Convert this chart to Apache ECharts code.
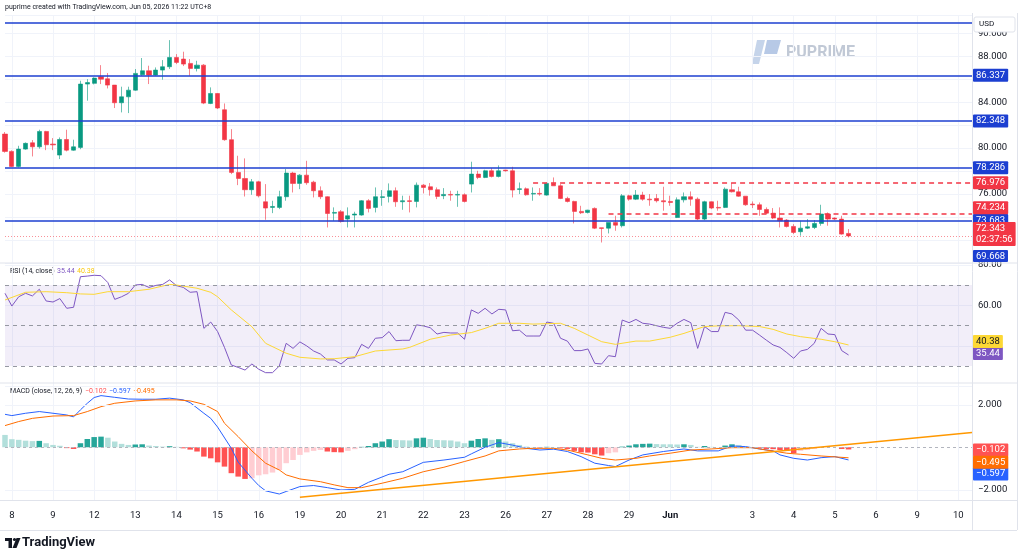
<!DOCTYPE html>
<html>
<head>
<meta charset="utf-8">
<script src="https://cdn.jsdelivr.net/npm/echarts@6.0.0/dist/echarts.min.js"></script>
<style>
  html, body { margin: 0; padding: 0; background: #fff; }
  #main { width: 1024px; height: 558px; }
</style>
</head>
<body>
<div id="main"></div>
<script>
// trading days on the time axis (4H bars, 6 per day); first day only shows its last bar
const days = ['7', '8', '9', '12', '13', '14', '15', '16', '19', '20', '21', '22', '23',
  '26', '27', '28', '29', 'Jun', '2', '3', '4', '5', '6', '9', '10'];

// [open, close, low, high]
const candles = [
  [81.22, 79.71, 79.60, 81.40], [79.71, 78.40, 78.35, 79.80], [78.40, 79.91, 78.31, 80.20],
  [79.91, 80.41, 79.85, 80.49], [80.46, 80.11, 79.27, 80.70], [80.11, 81.45, 79.95, 81.60],
  [81.45, 80.29, 79.82, 81.50], [80.35, 80.28, 79.82, 80.87], [79.39, 80.75, 79.04, 80.93],
  [80.75, 79.82, 79.71, 81.60], [79.82, 80.11, 79.77, 80.73], [80.06, 85.58, 79.90, 85.87],
  [85.58, 85.71, 84.13, 86.01], [85.64, 86.10, 85.55, 86.16], [86.22, 86.01, 85.58, 87.23],
  [86.04, 85.49, 85.20, 86.54], [85.49, 83.95, 83.49, 85.50], [83.95, 84.47, 83.11, 85.35],
  [84.47, 85.05, 83.05, 85.35], [85.05, 86.51, 85.00, 86.89], [86.39, 86.74, 86.30, 87.85],
  [86.74, 86.36, 85.58, 87.18], [86.36, 86.80, 86.30, 87.03], [86.80, 87.09, 85.96, 87.67],
  [87.09, 87.90, 86.89, 89.41], [87.90, 87.47, 87.32, 88.19], [87.76, 87.32, 87.15, 88.40],
  [87.38, 86.94, 86.30, 87.76], [86.94, 87.23, 86.68, 87.61], [87.23, 83.92, 83.83, 87.32],
  [83.89, 84.76, 83.83, 85.29], [84.76, 83.49, 83.40, 84.80], [83.34, 80.73, 80.64, 83.89],
  [80.73, 77.88, 77.73, 81.65], [77.88, 77.35, 76.77, 79.33], [77.35, 76.37, 75.78, 79.10],
  [76.37, 77.06, 75.93, 77.30], [77.06, 75.84, 75.70, 77.15], [75.32, 74.77, 73.75, 76.86],
  [74.83, 74.91, 74.33, 75.41], [74.83, 75.76, 74.68, 76.28], [75.76, 77.82, 75.41, 78.17],
  [77.82, 76.92, 76.13, 77.93], [76.92, 77.64, 76.42, 77.73], [77.64, 76.98, 76.80, 78.89],
  [77.03, 76.28, 75.70, 77.15], [76.28, 75.76, 75.55, 76.66], [75.76, 74.30, 73.08, 75.80],
  [74.33, 74.39, 73.66, 74.83], [74.45, 73.61, 73.50, 74.60], [73.81, 74.10, 73.08, 74.83],
  [74.16, 74.25, 73.08, 74.45], [74.16, 75.41, 74.10, 75.47], [75.41, 74.74, 74.39, 75.55],
  [74.83, 75.76, 74.39, 76.57], [75.70, 75.76, 74.97, 76.34], [75.79, 76.28, 75.26, 76.92],
  [76.28, 75.32, 74.88, 76.57], [75.32, 75.41, 74.62, 75.85], [75.41, 75.35, 74.39, 75.85],
  [75.35, 76.77, 74.83, 77.00], [76.77, 76.57, 76.05, 76.86], [76.63, 76.37, 75.85, 76.95],
  [76.37, 75.79, 75.55, 76.57], [75.85, 75.96, 75.55, 76.51], [75.96, 75.90, 75.41, 76.28],
  [75.90, 75.96, 74.88, 76.28], [75.93, 75.35, 75.26, 76.05], [76.86, 77.73, 76.13, 78.81],
  [77.73, 77.44, 77.29, 78.02], [77.44, 78.02, 77.38, 78.11], [78.02, 77.53, 77.44, 78.26],
  [77.53, 78.02, 77.44, 78.49], [78.08, 78.02, 77.95, 78.10], [78.02, 76.34, 75.70, 78.37],
  [76.40, 76.45, 75.99, 77.00], [76.45, 75.93, 75.85, 76.57], [75.99, 76.05, 75.41, 76.57],
  [76.05, 75.99, 75.85, 76.51], [75.90, 76.92, 75.85, 77.00], [76.92, 76.71, 76.71, 77.44],
  [76.71, 75.61, 75.55, 76.86], [75.61, 75.35, 75.26, 75.76], [75.35, 74.48, 73.43, 75.41],
  [74.48, 74.36, 74.25, 74.97], [74.39, 74.59, 74.30, 74.62], [74.74, 73.02, 72.94, 74.83],
  [73.05, 73.00, 71.77, 73.05], [73.02, 73.52, 72.56, 73.52], [73.52, 73.28, 72.79, 74.10],
  [73.23, 75.84, 73.08, 75.99], [75.84, 75.55, 75.41, 75.93], [75.55, 75.90, 75.47, 76.34],
  [75.90, 75.55, 75.41, 76.19], [75.55, 75.49, 74.97, 75.99], [75.61, 75.41, 75.26, 75.99],
  [75.41, 75.32, 74.54, 76.63], [75.35, 75.26, 74.97, 75.85], [73.95, 75.49, 73.90, 75.70],
  [75.49, 75.76, 75.26, 76.13], [75.76, 75.55, 74.97, 76.22], [75.55, 73.81, 73.72, 75.70],
  [73.81, 75.32, 73.72, 75.41], [75.32, 74.77, 74.68, 75.35], [74.83, 74.77, 74.54, 75.41],
  [74.83, 76.42, 74.77, 76.57], [76.37, 76.19, 76.13, 76.95], [76.19, 75.81, 75.76, 76.63],
  [75.81, 75.06, 74.97, 75.81], [75.12, 75.06, 74.77, 75.35], [75.06, 74.65, 74.10, 75.26],
  [74.65, 74.33, 74.25, 74.83], [74.33, 73.90, 73.81, 74.77], [73.90, 73.66, 73.08, 74.83],
  [73.72, 73.17, 73.08, 73.81], [73.17, 72.65, 72.50, 73.37], [72.71, 73.02, 72.36, 73.66],
  [73.02, 73.14, 72.94, 73.81], [73.08, 73.43, 72.94, 73.72], [73.43, 74.25, 73.23, 75.06],
  [74.25, 73.81, 73.23, 74.39], [73.90, 73.81, 73.72, 73.95], [73.81, 72.50, 72.45, 74.10],
  [72.56, 72.343, 72.21, 72.94]
];

// RSI (14, close), one value per bar
const rsi = [
  65.9, 59.6, 64.2, 65.9, 64.6, 67.9, 62.1, 61.6, 63.3, 58.5, 59.0, 74.1, 74.4, 74.8, 74.6, 71.2,
  62.9, 64.2, 65.9, 70.0, 70.3, 68.8, 69.8, 70.3, 72.5, 69.7, 68.8, 66.4, 66.7, 48.6, 51.7, 47.0,
  39.2, 30.5, 29.3, 28.0, 31.0, 28.4, 26.7, 26.7, 30.0, 41.2, 38.7, 41.9, 39.9, 37.4, 35.9, 33.0,
  33.0, 31.0, 33.8, 34.1, 40.7, 38.7, 43.7, 44.0, 47.0, 42.5, 42.7, 42.7, 50.3, 49.8, 48.9, 45.8,
  46.6, 46.3, 46.3, 43.2, 57.7, 56.0, 58.5, 55.7, 58.0, 57.7, 47.4, 47.7, 44.8, 44.8, 44.8, 51.7,
  51.1, 43.7, 42.3, 37.6, 37.6, 38.4, 31.3, 31.0, 35.1, 34.6, 52.7, 51.4, 53.0, 51.1, 50.7, 49.9,
  49.1, 48.6, 51.1, 53.0, 51.4, 38.7, 49.5, 47.0, 47.0, 56.5, 55.7, 52.7, 47.7, 47.7, 45.3, 42.8,
  40.4, 39.2, 36.6, 33.8, 37.4, 38.2, 41.2, 48.6, 45.8, 45.5, 37.6, 35.44
];

// RSI-based MA, read at [bar, value]
const rsiMa = [
  [0, 62.6], [3, 66.4], [6, 66.7], [9, 66.2], [11, 65.6], [13, 65.4], [15, 66.7], [18, 66.7],
  [21, 67.9], [24, 70.3], [25, 70.0], [28, 68.4], [30, 66.4], [31, 64.2], [33, 57.7], [36, 49.4],
  [38, 41.2], [41, 36.3], [43, 34.3], [46, 33.5], [48, 33.6], [51, 34.6], [54, 37.4], [58, 38.4],
  [59, 39.2], [62, 43.2], [65, 45.3], [68, 46.5], [70, 48.6], [72, 51.1], [75, 51.1], [77, 50.7],
  [81, 51.1], [83, 48.6], [85, 45.3], [87, 42.0], [89, 40.7], [92, 42.3], [94, 42.3], [97, 44.2],
  [99, 46.1], [102, 49.5], [104, 49.8], [107, 49.9], [110, 49.5], [112, 48.1], [114, 45.8],
  [116, 44.5], [119, 43.2], [121, 42.0], [123, 40.38]
];

// MACD (12, 26, 9) line and signal, read at [bar, value]
const macd = [
  [0, 1.55], [1, 1.49], [3, 1.60], [5, 1.68], [7, 1.60], [9, 1.52], [10, 1.43], [11, 1.76],
  [12, 2.07], [13, 2.34], [14, 2.43], [16, 2.35], [18, 2.27], [20, 2.26], [22, 2.26], [24, 2.31],
  [26, 2.23], [27, 2.10], [29, 1.60], [30, 1.36], [31, 0.95], [33, -0.05], [34, -0.70],
  [36, -1.46], [37, -1.80], [38, -2.05], [40, -2.20], [41, -2.08], [43, -1.85], [45, -1.80],
  [47, -1.90], [49, -2.01], [51, -1.98], [53, -1.65], [56, -1.27], [58, -1.15], [61, -0.71],
  [64, -0.60], [67, -0.47], [68, -0.31], [70, 0.00], [72, 0.22], [74, 0.10], [76, -0.05],
  [78, -0.13], [80, -0.09], [82, -0.20], [84, -0.44], [86, -0.75], [88, -0.86], [89, -0.91],
  [91, -0.60], [93, -0.36], [96, -0.20], [99, -0.08], [101, -0.17], [104, -0.17], [106, 0.06],
  [108, 0.03], [110, -0.08], [112, -0.17], [113, -0.36], [115, -0.52], [117, -0.60],
  [119, -0.49], [121, -0.44], [123, -0.597]
];
const signal = [
  [0, 1.02], [2, 1.21], [4, 1.36], [7, 1.47], [10, 1.49], [12, 1.68], [14, 1.91], [16, 2.07],
  [19, 2.18], [22, 2.23], [25, 2.23], [27, 2.18], [29, 2.02], [31, 1.68], [32, 1.13], [34, 0.50],
  [36, -0.17], [38, -0.75], [40, -1.07], [41, -1.30], [43, -1.49], [46, -1.62], [48, -1.77],
  [50, -1.90], [52, -1.90], [55, -1.69], [58, -1.46], [61, -1.15], [64, -0.94], [67, -0.67],
  [70, -0.41], [72, -0.17], [75, -0.08], [77, -0.05], [80, -0.05], [82, -0.13], [85, -0.36],
  [87, -0.52], [89, -0.60], [92, -0.52], [94, -0.41], [97, -0.28], [100, -0.13], [103, -0.08],
  [106, -0.02], [109, -0.02], [111, -0.13], [114, -0.28], [116, -0.33], [119, -0.41],
  [123, -0.495]
];
// MACD histogram, one value per bar
const hist = [
  0.58, 0.38, 0.35, 0.31, 0.29, 0.30, 0.19, 0.11, 0.07, -0.04, -0.08, 0.19, 0.39, 0.48, 0.50, 0.45,
  0.27, 0.16, 0.11, 0.13, 0.14, 0.08, 0.06, 0.03, 0.05, 0.02, -0.05, -0.11, -0.20, -0.44, -0.52,
  -0.71, -0.91, -1.22, -1.38, -1.49, -1.46, -1.32, -1.27, -1.19, -1.07, -0.75, -0.60, -0.36,
  -0.24, -0.17, -0.13, -0.20, -0.23, -0.24, -0.17, -0.09, 0.02, 0.06, 0.19, 0.27, 0.38, 0.34,
  0.33, 0.32, 0.42, 0.45, 0.39, 0.34, 0.33, 0.32, 0.27, 0.19, 0.31, 0.39, 0.42, 0.35, 0.38, 0.27,
  0.19, 0.11, 0.03, 0.01, -0.02, 0.02, 0.01, -0.05, -0.08, -0.17, -0.24, -0.25, -0.33, -0.39,
  -0.28, -0.24, 0.03, 0.08, 0.14, 0.16, 0.17, 0.15, 0.14, 0.14, 0.13, 0.14, 0.11, 0.02, 0.06,
  0.02, 0.01, 0.08, 0.14, 0.11, 0.03, 0.00, -0.05, -0.08, -0.09, -0.13, -0.17, -0.28, -0.17,
  -0.13, -0.08, -0.02, -0.01, 0.00, -0.08, -0.102
];

// drawn levels
const levels = [90.9, 86.337, 82.348, 78.286, 73.683];
const rays = [{ from: 77, value: 76.976 }, { from: 88, value: 74.234 }];
const lowLevel = 69.668;
const countdown = '02:37:56';
const trend = [[43, -2.35], [141, 0.69]];

const BLUE = '#1c3fd1';
const RED = '#f23645';
const GREEN = '#089981';
const GRID = '#f0f3fa';
const TEXT = '#131722';
const FONT = 'Roboto, "DejaVu Sans", sans-serif';
const NONE = 'rgba(0,0,0,0)';

const categories = [];
days.forEach(function (d, k) {
  const first = k === 0 ? 5 : 0;
  const last = k === days.length - 1 ? 2 : 5;
  for (let b = first; b <= last; b++) categories.push(d + '/' + b);
});
const lastIdx = categories.length - 1;
function dayStart(v) { return v.split('/')[1] === '0'; }

const lastClose = candles[candles.length - 1][1];
const lastRsi = rsi[rsi.length - 1];
const lastMa = rsiMa[rsiMa.length - 1][1];
const lastMacd = macd[macd.length - 1][1];
const lastSignal = signal[signal.length - 1][1];
const lastHist = hist[hist.length - 1];

// axis labels that sit under a value tag are left out, as TradingView does
const priceTags = levels.slice(1).concat(rays.map(function (r) { return r.value; }), [lastClose, lowLevel]);
const rsiTags = [lastRsi, lastMa];
const macdTags = [lastHist, lastMacd, lastSignal];
function covered(tags, v, gap) {
  return tags.some(function (t) { return Math.abs(t - v) < gap; });
}

var chartDom = document.getElementById('main');
var myChart = echarts.init(chartDom);
var option;

function xAxis(gridIndex, showLabel) {
  return {
    type: 'category',
    gridIndex: gridIndex,
    data: categories,
    boundaryGap: false,
    axisLine: { show: false },
    axisTick: { show: false },
    axisPointer: { show: false },
    axisLabel: {
      show: showLabel,
      // TradingView leaves out "2" next to the month label
      interval: function (i, v) { return dayStart(v) && v !== '2/0'; },
      formatter: function (v) {
        const d = v.split('/')[0];
        return d === 'Jun' ? '{b|Jun}' : d;
      },
      color: TEXT,
      fontSize: 9.5,
      fontFamily: FONT,
      margin: 10,
      rich: { b: { fontWeight: 'bold', fontSize: 9.5, color: TEXT, fontFamily: FONT } }
    },
    splitLine: {
      show: true,
      interval: function (i, v) { return dayStart(v); },
      lineStyle: { color: GRID, width: 1 }
    }
  };
}

function tag(bg, fg, dy, text) {
  return {
    show: true,
    position: 'end',
    distance: 1,
    formatter: text,
    backgroundColor: bg,
    color: fg,
    fontSize: 9.5,
    fontFamily: FONT,
    lineHeight: 11,
    padding: [1, 3, 1, 3],
    borderRadius: 1,
    offset: [0, dy]
  };
}
function hiddenLine() { return { color: NONE, width: 1 }; }

const histBars = hist.map(function (v, i) {
  const prev = i > 0 ? hist[i - 1] : v;
  let c;
  if (v >= 0) c = v > prev ? '#26a69a' : '#b2dfdb';
  else c = v > prev ? '#ffcdd2' : '#ff5252';
  return { value: v, itemStyle: { color: c } };
});

const priceMarks = levels.map(function (v, k) {
  return {
    yAxis: v,
    lineStyle: { color: BLUE, width: 1.5, type: 'solid' },
    label: k === 0 ? { show: false } : tag(BLUE, '#fff', 0, v.toFixed(3))
  };
});
rays.forEach(function (r, k) {
  priceMarks.push([
    {
      coord: [categories[r.from], r.value],
      lineStyle: { color: RED, width: 1.5, type: [5, 4] },
      label: tag(RED, '#fff', k === 1 ? -6.5 : 0, r.value.toFixed(3))
    },
    { coord: [categories[lastIdx], r.value] }
  ]);
});
priceMarks.push({
  yAxis: lastClose,
  lineStyle: { color: 'rgba(242, 54, 69, 0.55)', width: 1, type: [1, 2] },
  label: tag(RED, '#fff', -2, lastClose.toFixed(3) + '\n' + countdown)
});

function minus(v, d) { return (v < 0 ? '\u2212' : '') + Math.abs(v).toFixed(d); }
function legend(x, y, text, color) {
  return { type: 'text', x: x, y: y, style: { text: text, fill: color, fontSize: 7, fontFamily: FONT } };
}

option = {
  animation: false,
  backgroundColor: '#fff',
  textStyle: { fontFamily: FONT },
  grid: [
    { left: 5, right: 52, top: 15, height: 247.8 },
    { left: 5, right: 52, top: 264.75, height: 121.5 },
    { left: 5, right: 52, top: 383.5, height: 116.9 }
  ],
  xAxis: [xAxis(0, false), xAxis(1, false), xAxis(2, true)],
  yAxis: [
    {
      type: 'value', gridIndex: 0, position: 'right', min: 70, max: 91.6, interval: 2,
      axisLine: { show: false }, axisTick: { show: false },
      axisLabel: { color: TEXT, fontSize: 9.5, fontFamily: FONT, margin: 6, showMaxLabel: false,
        formatter: function (v) { return covered(priceTags, v, 0.6) ? '' : v.toFixed(3); } },
      splitLine: { lineStyle: { color: GRID } }
    },
    {
      type: 'value', gridIndex: 1, position: 'right', min: 20, max: 80, interval: 20,
      axisLine: { show: false }, axisTick: { show: false },
      axisLabel: { color: TEXT, fontSize: 9.5, fontFamily: FONT, margin: 6,
        formatter: function (v) { return v === 20 || covered(rsiTags, v, 5) ? '' : v.toFixed(2); } },
      splitLine: { lineStyle: { color: GRID } }
    },
    {
      type: 'value', gridIndex: 2, position: 'right', min: -2.5, max: 3, interval: 0.5,
      axisLine: { show: false }, axisTick: { show: false },
      axisLabel: { color: TEXT, fontSize: 9.5, fontFamily: FONT, margin: 6,
        formatter: function (v) {
          return (Math.abs(v) === 2 || v === 0) && !covered(macdTags, v, 0.3) ? minus(v, 3) : '';
        } },
      splitLine: { show: false }
    }
  ],
  series: [
    {
      name: 'price',
      type: 'candlestick',
      xAxisIndex: 0, yAxisIndex: 0,
      data: candles,
      barWidth: 4.6,
      clip: false,
      itemStyle: {
        color: GREEN, color0: RED,
        borderColor: 'rgba(8, 153, 129, 0.6)', borderColor0: 'rgba(242, 54, 69, 0.6)',
        borderWidth: 1
      },
      markLine: { symbol: 'none', silent: true, data: priceMarks }
    },
    {
      name: 'RSI',
      type: 'line',
      xAxisIndex: 1, yAxisIndex: 1,
      data: rsi,
      showSymbol: false,
      clip: false,
      lineStyle: { color: '#7e57c2', width: 1 },
      markArea: {
        silent: true,
        itemStyle: { color: 'rgba(126, 87, 194, 0.1)' },
        data: [[{ yAxis: 30 }, { yAxis: 70 }]]
      },
      markLine: {
        symbol: 'none', silent: true,
        data: [70, 50, 30].map(function (v) {
          return { yAxis: v, lineStyle: { color: '#9598a1', width: 1, type: [4, 4] }, label: { show: false } };
        }).concat([{ yAxis: lastRsi, lineStyle: hiddenLine(), label: tag('#7e57c2', '#fff', -1.5, lastRsi.toFixed(2)) }])
      }
    },
    {
      name: 'RSI MA',
      type: 'line',
      xAxisIndex: 1, yAxisIndex: 1,
      data: rsiMa,
      showSymbol: false,
      clip: false,
      lineStyle: { color: '#fdd835', width: 1 },
      markLine: {
        symbol: 'none', silent: true,
        data: [{ yAxis: lastMa, lineStyle: hiddenLine(), label: tag('#fdd835', TEXT, -3.5, lastMa.toFixed(2)) }]
      }
    },
    {
      name: 'Histogram',
      type: 'bar',
      xAxisIndex: 2, yAxisIndex: 2,
      data: histBars,
      barWidth: 5.5,
      clip: false,
      markLine: {
        symbol: 'none', silent: true,
        data: [
          { yAxis: 2, lineStyle: { color: GRID, width: 1, type: 'solid' }, label: { show: false } },
          { yAxis: -2, lineStyle: { color: GRID, width: 1, type: 'solid' }, label: { show: false } },
          { yAxis: 0, lineStyle: { color: '#b2b5be', width: 1, type: [3, 3] }, label: { show: false } },
          { yAxis: lastHist, lineStyle: hiddenLine(), label: tag('#ff5252', '#fff', 0.5, minus(lastHist, 3)) }
        ]
      }
    },
    {
      name: 'MACD',
      type: 'line',
      xAxisIndex: 2, yAxisIndex: 2,
      data: macd,
      showSymbol: false,
      clip: false,
      lineStyle: { color: '#2962ff', width: 1 },
      markLine: {
        symbol: 'none', silent: true,
        data: [{ yAxis: lastMacd, lineStyle: hiddenLine(), label: tag('#2962ff', '#fff', 14, minus(lastMacd, 3)) }]
      }
    },
    {
      name: 'Signal',
      type: 'line',
      xAxisIndex: 2, yAxisIndex: 2,
      data: signal,
      showSymbol: false,
      clip: false,
      lineStyle: { color: '#ff6d00', width: 1 },
      markLine: {
        symbol: 'none', silent: true,
        data: [
          { yAxis: lastSignal, lineStyle: hiddenLine(), label: tag('#ff6d00', '#fff', 4.5, minus(lastSignal, 3)) },
          [
            { coord: [categories[trend[0][0]], trend[0][1]], lineStyle: { color: '#ff9800', width: 1.5, type: 'solid' }, label: { show: false } },
            { coord: [categories[trend[1][0]], trend[1][1]] }
          ]
        ]
      }
    }
  ],
  graphic: [
    { type: 'text', x: 5, y: 4, style: { text: 'puprime created with TradingView.com, Jun 05, 2026 11:22 UTC+8', fill: TEXT, fontSize: 7, fontFamily: FONT } },
    // pane separators and price scale border
    { type: 'line', shape: { x1: 0, y1: 263, x2: 1017, y2: 263 }, style: { stroke: '#e0e3eb', lineWidth: 1 }, z: 5 },
    { type: 'line', shape: { x1: 0, y1: 383, x2: 1017, y2: 383 }, style: { stroke: '#e0e3eb', lineWidth: 1 }, z: 5 },
    { type: 'line', shape: { x1: 972.5, y1: 13, x2: 972.5, y2: 530 }, style: { stroke: '#e0e3eb', lineWidth: 1 }, z: 5 },
    { type: 'line', shape: { x1: 1017.5, y1: 13, x2: 1017.5, y2: 530 }, style: { stroke: '#e0e3eb', lineWidth: 1 }, z: 5 },
    { type: 'line', shape: { x1: 0, y1: 500.5, x2: 1017, y2: 500.5 }, style: { stroke: '#e0e3eb', lineWidth: 1 }, z: 5 },
    { type: 'line', shape: { x1: 0, y1: 530.5, x2: 1017, y2: 530.5 }, style: { stroke: '#e0e3eb', lineWidth: 1 }, z: 5 },
    // USD box
    { type: 'rect', shape: { x: 974, y: 17, width: 41, height: 15, r: 2 }, style: { fill: '#fff', stroke: '#e0e3eb' }, z: 100 },
    { type: 'text', x: 979, y: 20, style: { text: 'USD', fill: TEXT, fontSize: 8, fontFamily: FONT }, z: 101 },
    // level below the visible range, pinned to the pane bottom
    { type: 'rect', shape: { x: 973, y: 250, width: 35, height: 12, r: 1 }, style: { fill: BLUE }, z: 100 },
    { type: 'text', x: 976, y: 251.5, style: { text: lowLevel.toFixed(3), fill: '#fff', fontSize: 9.5, fontFamily: FONT }, z: 101 },
    // watermark
    { type: 'polygon', shape: { points: [[757, 40], [765, 40], [759, 64], [752, 64]] }, style: { fill: '#c5d4ea' } },
    { type: 'polygon', shape: { points: [[767, 40], [781, 40], [777, 54], [764, 54]] }, style: { fill: '#b7c9e6' } },
    { type: 'text', x: 786, y: 45, style: { text: 'PUPRIME', fill: '#c1c9d6', fontSize: 16, fontWeight: 'bold', fontFamily: FONT } },
    // RSI and MACD legends
    legend(10, 268, 'RSI (14, close)', TEXT),
    legend(57, 268, lastRsi.toFixed(2), '#7e57c2'),
    legend(77, 268, lastMa.toFixed(2), '#f9c80e'),
    legend(10, 388, 'MACD (close, 12, 26, 9)', TEXT),
    legend(85, 388, minus(lastHist, 3), '#ff5252'),
    legend(109, 388, minus(lastMacd, 3), '#2962ff'),
    legend(133, 388, minus(lastSignal, 3), '#ff6d00'),
    // TradingView footer
    { type: 'rect', shape: { x: 5, y: 538, width: 7, height: 3 }, style: { fill: TEXT } },
    { type: 'rect', shape: { x: 8.5, y: 538, width: 3.5, height: 10 }, style: { fill: TEXT } },
    { type: 'circle', shape: { cx: 14.5, cy: 539.5, r: 1.6 }, style: { fill: TEXT } },
    { type: 'polygon', shape: { points: [[16.5, 538], [20.5, 538], [16.5, 548], [12.5, 548]] }, style: { fill: TEXT } },
    { type: 'text', x: 22, y: 536, style: { text: 'TradingView', fill: TEXT, fontSize: 13, fontWeight: 'bold', fontFamily: FONT } }
  ]
};

option && myChart.setOption(option);
</script>
</body>
</html>
